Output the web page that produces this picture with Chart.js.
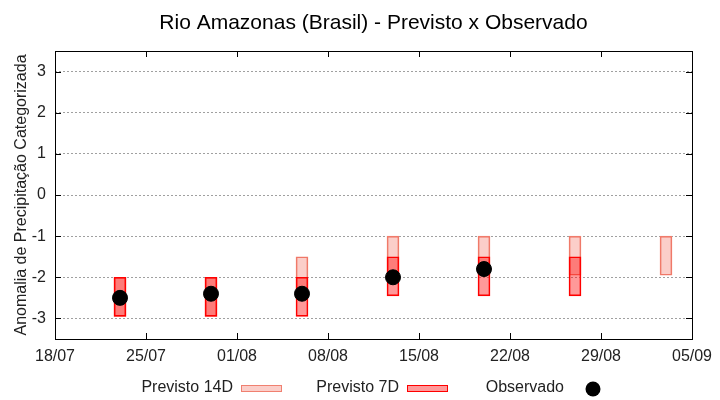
<!DOCTYPE html>
<html>
<head>
<meta charset="utf-8">
<script src="https://cdn.jsdelivr.net/npm/chart.js@4.4.0/dist/chart.umd.min.js"></script>
<style>
  html, body { margin: 0; padding: 0; background: #fff; }
  canvas { display: block; }
</style>
</head>
<body>
<canvas id="grafico" width="720" height="400"></canvas>
<script>
// dias contados a partir de 18/07
const diasPrevisao = [5, 12, 19, 26, 33, 40, 47];
const prev14Min = [-2.95, -2.95, -2.5, -1.95, -1.95, -1.95, -1.95];
const prev14Max = [-2, -2, -1.5, -1, -1, -1, -1];
const prev7Min = [-2.95, -2.95, -2.95, -2.45, -2.45, -2.45, null];
const prev7Max = [-2, -2, -2, -1.5, -1.5, -1.5, null];
const observado = [-2.5, -2.4, -2.4, -2.0, -1.8, null, null];

const xTicks = [0, 7, 14, 21, 28, 35, 42, 49];
const xTickLabels = ['18/07', '25/07', '01/08', '08/08', '15/08', '22/08', '29/08', '05/09'];
const yTicks = [-3, -2, -1, 0, 1, 2, 3];

const titulo = 'Rio Amazonas (Brasil) - Previsto x Observado';
const tituloY = 'Anomalia de Precipitação Categorizada';
const fonte = '"Liberation Sans", Arial, sans-serif';

const cor14 = 'rgba(240, 60, 40, 0.25)';
const borda14 = '#f08070';
const cor7 = 'rgba(255, 0, 0, 0.4)';
const borda7 = '#ff0000';

function barras(minimos, maximos) {
    const out = [];
    diasPrevisao.forEach((d, i) => {
        if (minimos[i] !== null) out.push({ x: d, y: [minimos[i], maximos[i]] });
    });
    return out;
}

function pontos(valores) {
    const out = [];
    diasPrevisao.forEach((d, i) => {
        if (valores[i] !== null) out.push({ x: d, y: valores[i] });
    });
    return out;
}

// moldura, marcas internas dos eixos, titulo e legenda no estilo gnuplot
const molduraPlugin = {
    id: 'moldura',
    afterDraw(chart) {
        const { ctx, chartArea: a, scales } = chart;
        ctx.save();
        ctx.strokeStyle = '#000';
        ctx.lineWidth = 1;
        ctx.strokeRect(a.left + 0.5, a.top + 0.5, a.right - a.left, a.bottom - a.top);
        ctx.beginPath();
        scales.x.ticks.forEach(t => {
            const px = Math.round(scales.x.getPixelForValue(t.value)) + 0.5;
            ctx.moveTo(px, a.bottom); ctx.lineTo(px, a.bottom - 6);
            ctx.moveTo(px, a.top); ctx.lineTo(px, a.top + 6);
        });
        scales.y.ticks.forEach(t => {
            const py = Math.round(scales.y.getPixelForValue(t.value)) + 0.5;
            ctx.moveTo(a.left, py); ctx.lineTo(a.left + 6, py);
            ctx.moveTo(a.right, py); ctx.lineTo(a.right - 6, py);
        });
        ctx.stroke();

        ctx.fillStyle = '#000';
        ctx.font = '21px ' + fonte;
        ctx.textAlign = 'center';
        ctx.textBaseline = 'alphabetic';
        ctx.fillText(titulo, (a.left + a.right) / 2, 29);

        // legenda
        ctx.font = '16px ' + fonte;
        ctx.textAlign = 'right';
        const itens = chart.data.datasets.slice().reverse();
        const inicio = [241, 407, 572];
        itens.forEach((ds, i) => {
            const x0 = inicio[i];
            ctx.fillStyle = '#222';
            ctx.fillText(ds.label, x0 - 8, 392);
            if (ds.type === 'scatter') {
                ctx.beginPath();
                ctx.arc(x0 + 21, 389, 7.5, 0, Math.PI * 2);
                ctx.fillStyle = ds.backgroundColor;
                ctx.fill();
            } else {
                ctx.fillStyle = ds.backgroundColor;
                ctx.fillRect(x0, 385, 41, 6);
                ctx.strokeStyle = ds.borderColor;
                ctx.lineWidth = 1;
                ctx.strokeRect(x0 + 0.5, 385.5, 40, 6);
            }
        });
        ctx.restore();
    }
};

new Chart(document.getElementById('grafico'), {
    type: 'bar',
    data: {
        datasets: [
            {
                type: 'scatter',
                label: 'Observado',
                data: pontos(observado),
                backgroundColor: '#000',
                borderColor: '#000',
                pointRadius: 7.5,
                pointHoverRadius: 7.5,
                order: 0
            },
            {
                label: 'Previsto 7D',
                data: barras(prev7Min, prev7Max),
                backgroundColor: cor7,
                borderColor: borda7,
                borderWidth: 1,
                borderSkipped: false,
                barThickness: 12,
                grouped: false,
                order: 1
            },
            {
                label: 'Previsto 14D',
                data: barras(prev14Min, prev14Max),
                backgroundColor: cor14,
                borderColor: borda14,
                borderWidth: 1,
                borderSkipped: false,
                barThickness: 12,
                grouped: false,
                order: 2
            }
        ]
    },
    options: {
        responsive: false,
        animation: false,
        layout: { padding: { top: 51, right: 28, bottom: 31, left: 0 } },
        plugins: {
            legend: { display: false },
            title: { display: false },
            tooltip: { enabled: false }
        },
        scales: {
            x: {
                type: 'linear',
                min: 0,
                max: 49,
                offset: false,
                afterBuildTicks: scale => { scale.ticks = xTicks.map(v => ({ value: v })); },
                afterFit: scale => { scale.height = 30; },
                grid: { display: false },
                border: { display: false },
                ticks: {
                    color: '#222',
                    font: { family: fonte, size: 16 },
                    padding: 0,
                    maxRotation: 0,
                    autoSkip: false,
                    callback: v => xTickLabels[xTicks.indexOf(v)]
                }
            },
            y: {
                type: 'linear',
                min: -3.5,
                max: 3.5,
                afterBuildTicks: scale => { scale.ticks = yTicks.map(v => ({ value: v })); },
                afterFit: scale => { scale.width = 55; },
                grid: {
                    color: '#a0a0a0',
                    lineWidth: 1,
                    drawTicks: false
                },
                border: { display: false, dash: [2, 2] },
                ticks: {
                    color: '#222',
                    font: { family: fonte, size: 16 },
                    padding: 9
                },
                title: {
                    display: true,
                    text: tituloY,
                    color: '#222',
                    font: { family: fonte, size: 16 },
                    padding: { top: 12, bottom: 0 }
                }
            }
        }
    },
    plugins: [molduraPlugin]
});
</script>
</body>
</html>
